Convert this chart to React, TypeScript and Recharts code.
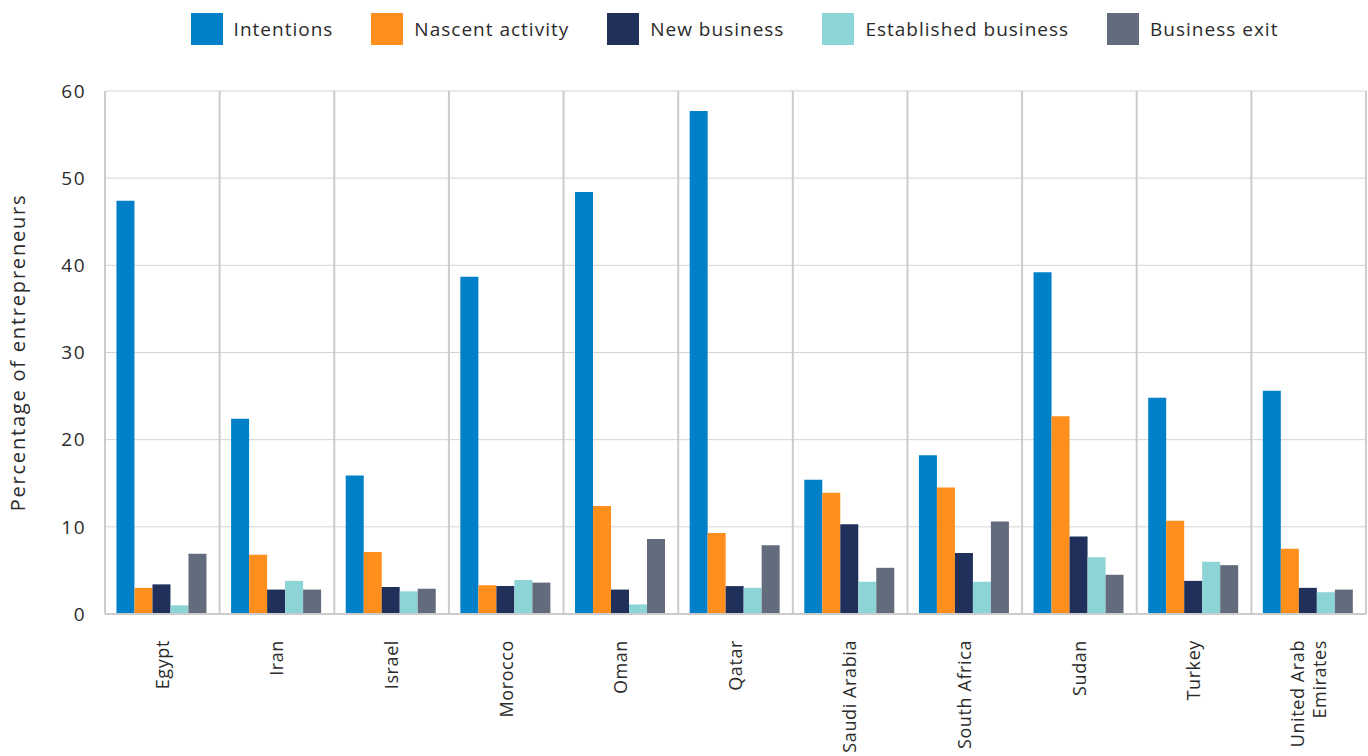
import { Bar, BarChart, CartesianGrid, Legend, XAxis, YAxis } from "recharts";

const countries = [
  "Egypt",
  "Iran",
  "Israel",
  "Morocco",
  "Oman",
  "Qatar",
  "Saudi Arabia",
  "South Africa",
  "Sudan",
  "Turkey",
  "United Arab Emirates",
];

const intentions = [47.4, 22.4, 15.9, 38.7, 48.4, 57.7, 15.4, 18.2, 39.2, 24.8, 25.6];
const nascent = [3.0, 6.8, 7.1, 3.3, 12.4, 9.3, 13.9, 14.5, 22.7, 10.7, 7.5];
const newBusiness = [3.4, 2.8, 3.1, 3.2, 2.8, 3.2, 10.3, 7.0, 8.9, 3.8, 3.0];
const established = [1.0, 3.8, 2.6, 3.9, 1.1, 3.0, 3.7, 3.7, 6.5, 6.0, 2.5];
const businessExit = [6.9, 2.8, 2.9, 3.6, 8.6, 7.9, 5.3, 10.6, 4.5, 5.6, 2.8];

const yTicks = [0, 10, 20, 30, 40, 50, 60];

const series = [
  { key: "intentions", name: "Intentions", color: "#0180ca" },
  { key: "nascent", name: "Nascent activity", color: "#ff8f1c" },
  { key: "newBusiness", name: "New business", color: "#21305a" },
  { key: "established", name: "Established business", color: "#8dd4d6" },
  { key: "businessExit", name: "Business exit", color: "#626c7c" },
];

const chartData = countries.map((country, i) => ({
  country,
  intentions: intentions[i],
  nascent: nascent[i],
  newBusiness: newBusiness[i],
  established: established[i],
  businessExit: businessExit[i],
}));

const FONT = "'Open Sans', sans-serif";
const TEXT = "#2b2b2b";

const wrapLabel = (label: string) =>
  label === "United Arab Emirates" ? ["United Arab", "Emirates"] : [label];

// separators between the country groups, one per band edge
const bandEdges = ({ offset }: any) =>
  Array.from({ length: countries.length + 1 }, (_, i) => offset.left + (i * offset.width) / countries.length);

function CountryTick({ x, y, payload }: any) {
  const lines = wrapLabel(payload.value);
  const lineHeight = 22;
  const start = -((lines.length - 1) * lineHeight) / 2;
  return (
    <g transform={`translate(${x},${y + 18})`}>
      <text
        transform="rotate(-90)"
        textAnchor="end"
        fill={TEXT}
        fontSize={18}
        letterSpacing={0.6}
        fontFamily={FONT}
      >
        {lines.map((line, i) => (
          <tspan key={line} x={0} y={start + i * lineHeight} dy="0.35em">
            {line}
          </tspan>
        ))}
      </text>
    </g>
  );
}

function LegendContent() {
  return (
    <div
      style={{
        height: 91,
        display: "flex",
        justifyContent: "center",
        paddingTop: 13,
        paddingLeft: 103,
        boxSizing: "border-box",
        fontFamily: FONT,
        fontSize: 19,
        letterSpacing: 1,
        color: TEXT,
      }}
    >
      {series.map((s, i) => (
        <div
          key={s.key}
          style={{ display: "flex", alignItems: "flex-start", marginRight: i === series.length - 1 ? 0 : 38 }}
        >
          <span style={{ width: 32, height: 32, background: s.color, display: "inline-block", marginRight: 11 }} />
          <span style={{ lineHeight: "32px" }}>{s.name}</span>
        </div>
      ))}
    </div>
  );
}

export default function App() {
  return (
    <div style={{ position: "absolute", left: 0, top: 0, width: 1368, height: 756, background: "#fff" }}>
      <BarChart
        width={1368}
        height={756}
        data={chartData}
        margin={{ top: 0, right: 2, bottom: 0, left: 0 }}
        barCategoryGap="10%"
        barGap={0}
      >
        <CartesianGrid vertical={false} stroke="#d4d4d4" strokeWidth={1} />
        <CartesianGrid
          horizontal={false}
          stroke="#cccccc"
          strokeWidth={2}
          verticalCoordinatesGenerator={bandEdges}
        />
        <XAxis
          dataKey="country"
          interval={0}
          height={142}
          tick={<CountryTick />}
          tickLine={false}
          axisLine={{ stroke: "#cccccc", strokeWidth: 2 }}
        />
        <YAxis
          width={105}
          domain={[0, 60]}
          ticks={yTicks}
          tickLine={false}
          axisLine={false}
          tickSize={0}
          tickMargin={19}
          tick={{ fill: TEXT, fontSize: 19, fontFamily: FONT, letterSpacing: 1.5 }}
          label={{
            value: "Percentage of entrepreneurs",
            angle: -90,
            position: "insideLeft",
            offset: 18,
            style: { textAnchor: "middle", fill: TEXT, fontSize: 20, fontFamily: FONT, letterSpacing: 1.8 },
          }}
        />
        <Legend verticalAlign="top" content={<LegendContent />} />
        {series.map((s) => (
          <Bar key={s.key} dataKey={s.key} name={s.name} fill={s.color} isAnimationActive={false} />
        ))}
      </BarChart>
    </div>
  );
}
